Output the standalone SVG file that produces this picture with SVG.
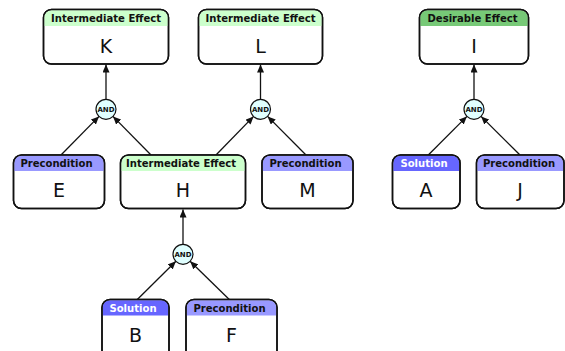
<svg xmlns="http://www.w3.org/2000/svg" width="565" height="351" viewBox="0 0 565 351">
<style>
.box{fill:#fff;stroke:#111;stroke-width:1.5}
.frame{fill:none;stroke:#111;stroke-width:1.5}
.ie{fill:#ccffcc}
.pc{fill:#9999ff}
.so{fill:#6666ff}
.de{fill:#77c977}
.ht{font-family:"DejaVu Sans Condensed","DejaVu Sans","Liberation Sans",sans-serif;font-weight:bold;font-size:11.2px;text-anchor:middle;fill:#111}
.hw{fill:#fff}
.lt{font-family:"DejaVu Sans","Liberation Sans",sans-serif;font-size:19px;text-anchor:middle;fill:#111}
.and{fill:#e0ffff;stroke:#111;stroke-width:1.2}
.at{font-family:"DejaVu Sans","Liberation Sans",sans-serif;font-weight:bold;font-size:7px;text-anchor:middle;fill:#111}
.c{stroke:#111;stroke-width:1.3;fill:none;marker-end:url(#ah)}
</style>
<defs>
<marker id="ah" markerUnits="userSpaceOnUse" markerWidth="9" markerHeight="7" refX="8" refY="3.5" orient="auto">
<path d="M0,0 L8,3.5 L0,7 Z" fill="#111"/>
</marker>
</defs>
<g id="connectors">
<line class="c" x1="106" y1="99.3" x2="106" y2="64.5"/>
<line class="c" x1="260.5" y1="99.3" x2="260.5" y2="64.5"/>
<line class="c" x1="474" y1="99.3" x2="474" y2="64.5"/>
<line class="c" x1="183" y1="244.3" x2="183" y2="209.5"/>
<line class="c" x1="61" y1="155" x2="99" y2="116.4"/>
<line class="c" x1="151" y1="155" x2="113" y2="116.4"/>
<line class="c" x1="216" y1="155" x2="253.6" y2="116.4"/>
<line class="c" x1="306" y1="155" x2="267.6" y2="116.4"/>
<line class="c" x1="428.3" y1="155" x2="466.9" y2="116.4"/>
<line class="c" x1="520" y1="155" x2="481.1" y2="116.4"/>
<line class="c" x1="137.3" y1="299.5" x2="175.9" y2="261.3"/>
<line class="c" x1="229.3" y1="299.5" x2="190.1" y2="261.3"/>
</g>
<g id="and-K"><circle class="and" cx="106" cy="109.3" r="10"/><text class="at" x="106" y="111.8">AND</text></g>
<g id="and-L"><circle class="and" cx="260.5" cy="109.3" r="10"/><text class="at" x="260.5" y="111.8">AND</text></g>
<g id="and-I"><circle class="and" cx="474" cy="109.3" r="10"/><text class="at" x="474" y="111.8">AND</text></g>
<g id="and-H"><circle class="and" cx="183" cy="254.3" r="10"/><text class="at" x="183" y="256.8">AND</text></g>
<g id="node-K">
<rect class="box" x="43.5" y="9.5" width="125" height="54.5" rx="8"/>
<path class="ie" d="M44.25,26 V17.5 A7.25,7.25 0 0 1 51.5,10.25 H160.5 A7.25,7.25 0 0 1 167.75,17.5 V26 Z"/>
<rect class="frame" x="43.5" y="9.5" width="125" height="54.5" rx="8"/>
<text class="ht" x="106" y="22.2">Intermediate Effect</text>
<text class="lt" x="106" y="52.5">K</text>
</g>
<g id="node-L">
<rect class="box" x="198.5" y="9.5" width="124" height="54.5" rx="8"/>
<path class="ie" d="M199.25,26 V17.5 A7.25,7.25 0 0 1 206.5,10.25 H314.5 A7.25,7.25 0 0 1 321.75,17.5 V26 Z"/>
<rect class="frame" x="198.5" y="9.5" width="124" height="54.5" rx="8"/>
<text class="ht" x="260.5" y="22.2">Intermediate Effect</text>
<text class="lt" x="260.5" y="52.5">L</text>
</g>
<g id="node-I">
<rect class="box" x="419.5" y="9.5" width="109" height="54.5" rx="8"/>
<path class="de" d="M420.25,26 V17.5 A7.25,7.25 0 0 1 427.5,10.25 H520.5 A7.25,7.25 0 0 1 527.75,17.5 V26 Z"/>
<rect class="frame" x="419.5" y="9.5" width="109" height="54.5" rx="8"/>
<text class="ht" x="472.5" y="22.2">Desirable Effect</text>
<text class="lt" x="474" y="52.5">I</text>
</g>
<g id="node-E">
<rect class="box" x="13.5" y="155" width="91" height="53.5" rx="8"/>
<path class="pc" d="M14.25,171 V163 A7.25,7.25 0 0 1 21.5,155.75 H96.5 A7.25,7.25 0 0 1 103.75,163 V171 Z"/>
<rect class="frame" x="13.5" y="155" width="91" height="53.5" rx="8"/>
<text class="ht" x="56.5" y="167.3">Precondition</text>
<text class="lt" x="59" y="196.5">E</text>
</g>
<g id="node-H">
<rect class="box" x="120.5" y="155" width="125" height="53.5" rx="8"/>
<path class="ie" d="M121.25,171 V163 A7.25,7.25 0 0 1 128.5,155.75 H237.5 A7.25,7.25 0 0 1 244.75,163 V171 Z"/>
<rect class="frame" x="120.5" y="155" width="125" height="53.5" rx="8"/>
<text class="ht" x="181" y="167.3">Intermediate Effect</text>
<text class="lt" x="183" y="196.5">H</text>
</g>
<g id="node-M">
<rect class="box" x="262" y="155" width="91" height="53.5" rx="8"/>
<path class="pc" d="M262.75,171 V163 A7.25,7.25 0 0 1 270,155.75 H345 A7.25,7.25 0 0 1 352.25,163 V171 Z"/>
<rect class="frame" x="262" y="155" width="91" height="53.5" rx="8"/>
<text class="ht" x="305.5" y="167.3">Precondition</text>
<text class="lt" x="307.5" y="196.5">M</text>
</g>
<g id="node-A">
<rect class="box" x="392.5" y="155" width="67.5" height="53.5" rx="8"/>
<path class="so" d="M393.25,171 V163 A7.25,7.25 0 0 1 400.5,155.75 H452 A7.25,7.25 0 0 1 459.25,163 V171 Z"/>
<rect class="frame" x="392.5" y="155" width="67.5" height="53.5" rx="8"/>
<text class="ht hw" x="424" y="167.3">Solution</text>
<text class="lt" x="426" y="196.5">A</text>
</g>
<g id="node-J">
<rect class="box" x="476.5" y="155" width="87.5" height="53.5" rx="8"/>
<path class="pc" d="M477.25,171 V163 A7.25,7.25 0 0 1 484.5,155.75 H556 A7.25,7.25 0 0 1 563.25,163 V171 Z"/>
<rect class="frame" x="476.5" y="155" width="87.5" height="53.5" rx="8"/>
<text class="ht" x="519" y="167.3">Precondition</text>
<text class="lt" x="520" y="196.5">J</text>
</g>
<g id="node-B">
<rect class="box" x="102" y="299.5" width="67" height="60" rx="8"/>
<path class="so" d="M102.75,315.5 V307.5 A7.25,7.25 0 0 1 110,300.25 H161 A7.25,7.25 0 0 1 168.25,307.5 V315.5 Z"/>
<rect class="frame" x="102" y="299.5" width="67" height="60" rx="8"/>
<text class="ht hw" x="133" y="311.8">Solution</text>
<text class="lt" x="135.5" y="341.5">B</text>
</g>
<g id="node-F">
<rect class="box" x="186" y="299.5" width="91" height="60" rx="8"/>
<path class="pc" d="M186.75,315.5 V307.5 A7.25,7.25 0 0 1 194,300.25 H269 A7.25,7.25 0 0 1 276.25,307.5 V315.5 Z"/>
<rect class="frame" x="186" y="299.5" width="91" height="60" rx="8"/>
<text class="ht" x="229.5" y="311.8">Precondition</text>
<text class="lt" x="231.5" y="341.5">F</text>
</g>
</svg>
